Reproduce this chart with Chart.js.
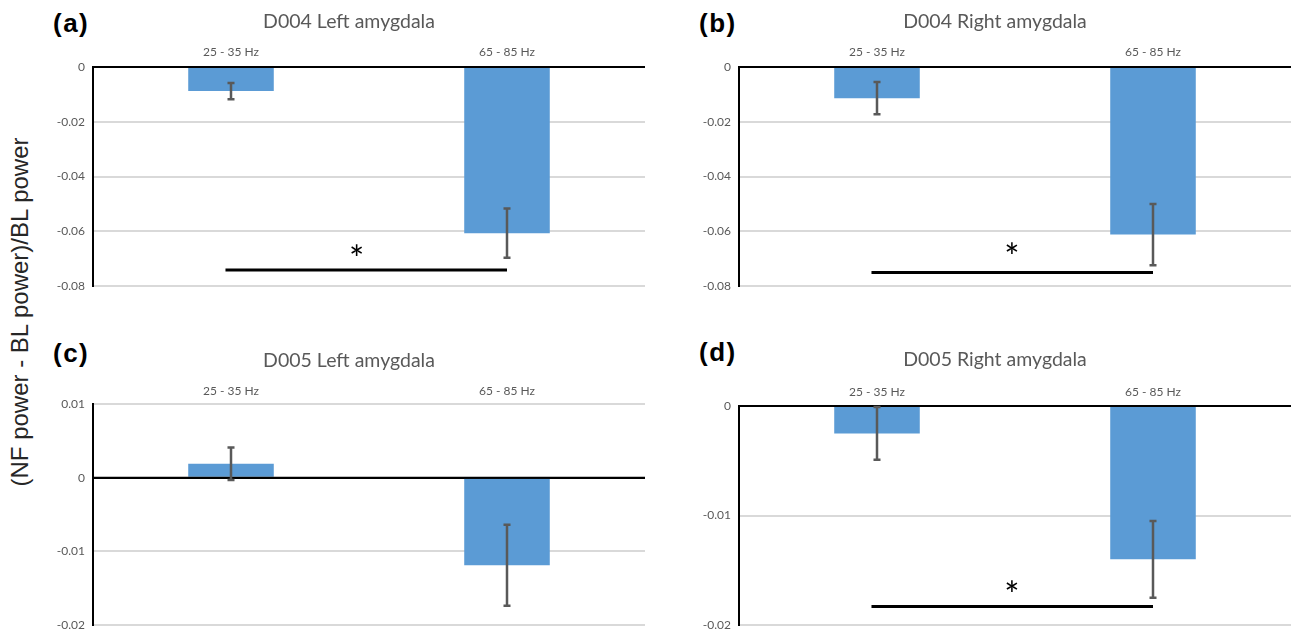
<!DOCTYPE html>
<html>
<head>
<meta charset="utf-8">
<script src="https://cdn.jsdelivr.net/npm/chart.js@4.4.1/dist/chart.umd.min.js"></script>
<style>
  body { margin: 0; background: #fff; width: 1291px; height: 632px; position: relative; overflow: hidden; }
  canvas { position: absolute; }
  .letter { position: absolute; font: bold 26px "Liberation Sans", Arial, sans-serif; letter-spacing: 1.5px;
            color: #000; line-height: 26px; }
  #ylabel { position: absolute; left: 20px; top: 312px; transform: translate(-50%, -50%) rotate(-90deg);
            white-space: nowrap; font: 24px "Liberation Sans", Arial, sans-serif; color: #262626; }
</style>
</head>
<body>
<div id="ylabel">(NF power - BL power)/BL power</div>
<div class="letter" style="left:53px; top:10px;">(a)</div>
<div class="letter" style="left:699px; top:10px;">(b)</div>
<div class="letter" style="left:53px; top:340px;">(c)</div>
<div class="letter" style="left:699px; top:339px;">(d)</div>
<canvas id="chart_a" width="592" height="300" style="left:53px; top:0px;"></canvas>
<canvas id="chart_b" width="592" height="300" style="left:699px; top:0px;"></canvas>
<canvas id="chart_c" width="592" height="302" style="left:53px; top:330px;"></canvas>
<canvas id="chart_d" width="592" height="302" style="left:699px; top:330px;"></canvas>
<script>
// categories and panel titles
const categories = ['25 - 35 Hz', '65 - 85 Hz'];
const titles = ['D004 Left amygdala', 'D004 Right amygdala', 'D005 Left amygdala', 'D005 Right amygdala'];

// mean change and error per band
const meansA = [-0.0088, -0.0607];
const errorsA = [0.0030, 0.0090];
const meansB = [-0.0114, -0.0612];
const errorsB = [0.0059, 0.0112];
const meansC = [0.0019, -0.0119];
const errorsC = [0.0022, 0.0055];
const meansD = [-0.0025, -0.0140];
const errorsD = [0.0024, 0.0035];

// y axis ranges
const yMins = [-0.08, -0.08, -0.02, -0.02];
const yMaxs = [0, 0, 0.01, 0];
const ySteps = [0.02, 0.02, 0.01, 0.01];

// significance brackets (x in category index units, null = none)
const sigLevels = [-0.0742, -0.0751, null, -0.0183];
const sigFrom = [-0.02, -0.02, null, -0.02];
const sigTo = [1, 1, null, 1];
const starX = [0.455, 0.489, null, 0.489];
const starY = [-0.0667, -0.0660, null, -0.0164];

const allMeans = [meansA, meansB, meansC, meansD];
const allErrors = [errorsA, errorsB, errorsC, errorsD];

// layout of each canvas (title padding, axis band height, tick padding, bottom padding)
const layouts = [
  { id: 'chart_a', titleTop: 10, axisHeight: 33, tickPad: 8, bottom: 14 },
  { id: 'chart_b', titleTop: 10, axisHeight: 33, tickPad: 8, bottom: 14 },
  { id: 'chart_c', titleTop: 19, axisHeight: 31, tickPad: 6, bottom: 7 },
  { id: 'chart_d', titleTop: 18, axisHeight: 34, tickPad: 7, bottom: 7 }
];

const isZero = v => Math.abs(v) < 1e-9;

// draws zero line, error bars and the significance bracket
const extras = {
  id: 'extras',
  afterDatasetsDraw(chart, args, opts) {
    const ctx = chart.ctx;
    const x = chart.scales.x, y = chart.scales.y;
    const area = chart.chartArea;
    const means = chart.data.datasets[0].data;
    ctx.save();

    const y0 = y.getPixelForValue(0);
    ctx.strokeStyle = '#000';
    ctx.lineWidth = 2;
    ctx.beginPath();
    ctx.moveTo(area.left, y0);
    ctx.lineTo(area.right, y0);
    ctx.stroke();

    ctx.strokeStyle = '#595959';
    ctx.lineWidth = 2.5;
    means.forEach((m, i) => {
      const px = x.getPixelForValue(i);
      const top = y.getPixelForValue(m + opts.errors[i]);
      const bot = y.getPixelForValue(m - opts.errors[i]);
      ctx.beginPath();
      ctx.moveTo(px, top); ctx.lineTo(px, bot);
      ctx.moveTo(px - 3.5, top); ctx.lineTo(px + 3.5, top);
      ctx.moveTo(px - 3.5, bot); ctx.lineTo(px + 3.5, bot);
      ctx.stroke();
    });

    if (opts.sig !== null) {
      const sy = y.getPixelForValue(opts.sig);
      ctx.strokeStyle = '#000';
      ctx.lineWidth = 3;
      ctx.beginPath();
      ctx.moveTo(x.getPixelForValue(opts.from), sy);
      ctx.lineTo(x.getPixelForValue(opts.to), sy);
      ctx.stroke();

      ctx.fillStyle = '#000';
      ctx.font = '36px Lato';
      ctx.textAlign = 'center';
      ctx.textBaseline = 'alphabetic';
      const m = ctx.measureText('*');
      const cy = y.getPixelForValue(opts.starY);
      ctx.fillText('*', x.getPixelForValue(opts.starX),
        cy + (m.actualBoundingBoxAscent - m.actualBoundingBoxDescent) / 2);
    }
    ctx.restore();
  }
};

layouts.forEach((lay, p) => {
  new Chart(document.getElementById(lay.id), {
    type: 'bar',
    data: {
      labels: categories,
      datasets: [{
        data: allMeans[p],
        backgroundColor: '#5b9bd5',
        borderWidth: 0,
        barPercentage: 0.31,
        categoryPercentage: 1
      }]
    },
    plugins: [extras],
    options: {
      responsive: false,
      animation: false,
      layout: { padding: { left: 0, right: 0, top: 0, bottom: lay.bottom } },
      plugins: {
        legend: { display: false },
        tooltip: { enabled: false },
        title: {
          display: true,
          text: titles[p],
          color: '#595959',
          font: { family: 'Lato', size: 19.5, weight: 'normal', lineHeight: '24px' },
          padding: { top: lay.titleTop, bottom: 0 }
        },
        extras: {
          errors: allErrors[p],
          sig: sigLevels[p],
          from: sigFrom[p],
          to: sigTo[p],
          starX: starX[p],
          starY: starY[p]
        }
      },
      scales: {
        x: {
          position: 'top',
          grid: { display: false, drawTicks: false },
          border: { display: false },
          ticks: { color: '#595959', font: { family: 'Lato', size: 12 }, padding: lay.tickPad, maxRotation: 0 },
          afterFit(scale) {
            scale.height = lay.axisHeight;
            scale.paddingLeft = 0;
            scale.paddingRight = 0;
          }
        },
        y: {
          min: yMins[p],
          max: yMaxs[p],
          grid: {
            color: c => isZero(c.tick.value) ? '#000' : '#d9d9d9',
            lineWidth: 2,
            drawTicks: false
          },
          border: { display: true, color: '#000', width: 2 },
          ticks: {
            stepSize: ySteps[p],
            color: '#595959',
            font: { family: 'Lato', size: 12 },
            padding: 8,
            callback: v => isZero(v) ? '0' : v.toFixed(2)
          },
          afterFit(scale) {
            scale.width = 40;
            scale.paddingTop = 0;
            scale.paddingBottom = 0;
          }
        }
      }
    }
  });
});
</script>
</body>
</html>
